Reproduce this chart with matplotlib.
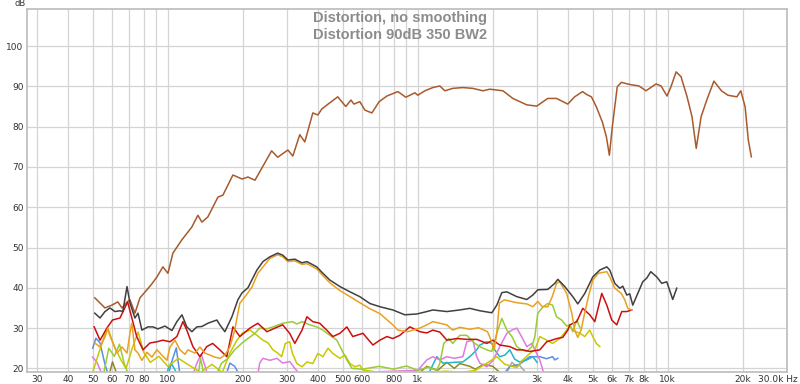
import numpy as np
import matplotlib
matplotlib.use("Agg")
import matplotlib.pyplot as plt
from matplotlib.transforms import ScaledTranslation

# --- data (Hz, dB) ---
fund_f = [51, 56, 59.7, 63, 65.5, 69, 70.5, 73.8, 77.3, 82.4, 86.3, 90.4, 95.5, 100, 104.7, 113.7,
          124.7, 131.8, 136.8, 144.5, 158.5, 166, 182, 198, 209, 223, 260, 275, 302, 316, 337,
          353, 380, 398, 413, 444, 478, 515, 540, 555, 586, 614, 655, 700, 752, 832, 895, 973,
          1000, 1067, 1148, 1225, 1282, 1380, 1514, 1660, 1820, 1940, 2190, 2400, 2730, 2990,
          3310, 3590, 3980, 4240, 4560, 4730, 4950, 5180, 5470, 5680, 5840, 6000, 6280, 6520,
          7000, 7670, 8180, 8980, 9400, 9930, 10300, 10800, 11300, 11950, 12500, 13000, 13600,
          14400, 15300, 16400, 17400, 18900, 19600, 20400, 21000, 21600]
fund_db = [37.5, 35, 35.7, 36.5, 35, 36.6, 37, 33.7, 37.5, 39.5, 41, 42.7, 45.2, 43.6, 48.6, 51.9,
           55.1, 58, 56.3, 57.6, 62.5, 63, 68, 67, 67.5, 66.7, 74, 72.4, 74.2, 72.7, 78,
           76.2, 83.4, 82.9, 84.4, 85.9, 87.4, 85, 86.6, 85.6, 86.2, 84.1, 83.4, 86.2, 87.6, 88.7, 87.3, 88.4,
           87.8, 88.9, 89.7, 90.1, 88.9, 89.5, 89.7, 89.5, 88.9, 89.3, 88.9, 87, 85.4, 85.1,
           87, 87, 85.6, 87.4, 88.7, 88, 87.4, 84.9, 81.2, 77.5, 72.9, 80, 89.9, 91,
           90.5, 90.1, 88.9, 90.6, 90.1, 87.6, 89.9, 93.6, 92.4, 87.4, 82.5, 74.6, 82.5,
           87, 91.3, 88.9, 87.8, 87.4, 88.9, 84.9, 76.7, 72.5]

thd_f = [51, 53.5, 56, 58.6, 61.4, 64.3, 66, 68.6, 70.5, 73.8, 75.9, 78.7, 83.2, 87.1, 91.2, 97.3,
         103.8, 108.6, 113.8, 119, 124.7, 130.6, 136.8, 144.5, 157, 161.4, 169, 180.3, 190.5,
         197.7, 209, 227, 240, 256, 275, 288, 302, 322, 344, 360, 394, 417, 445, 488, 535, 586,
         643, 705, 794, 887, 991, 1086, 1148, 1306, 1472, 1614, 1770, 1977, 2070, 2168, 2270,
         2489, 2729, 2884, 3020, 3311, 3532, 3631, 3873, 4169, 4365, 4656, 5012, 5346, 5702,
         5861, 6138, 6427, 6607, 6855, 7047, 7244, 7586, 7943, 8241, 8551, 9036, 9462, 9908,
         10470, 10860]
thd_db = [33.7, 32.5, 34.1, 35, 34.1, 34.3, 34.1, 40.3, 36.2, 32.5, 33.7, 29.5, 30.3, 30.3, 29.8, 30.5,
          29.4, 31.6, 33.3, 30.3, 29.1, 30.3, 30.4, 31.2, 32, 30.8, 29.1, 32.8, 37,
          38.7, 40, 44.4, 46.5, 47.7, 48.6, 48.1, 46.9, 47.1, 46.2, 46.5, 45.2, 43.6, 41.9, 40.3, 39, 37.8,
          36.1, 35.3, 34.5, 33.3, 33.5, 34.1, 34.5, 34.1, 34.5, 34.9, 34.3, 33.8, 35.7, 38.8, 39,
          37.8, 37.1, 38.2, 39.5, 39.6, 41.1, 42.1, 40.3, 37.8, 36, 38.6, 42.7, 44.4, 45.2,
          44.4, 41.1, 39.9, 40.4, 38.2, 38.5, 35.7, 38.6, 41.5, 42.4, 44, 42.7, 41.1, 41.5,
          37.1, 39.9]

h2_f = [51, 53.5, 56, 57.5, 59.7, 62.5, 65.5, 68.6, 70.5, 71.7, 73.8, 75.9, 78.7, 82.4, 86.3, 90.4,
        94.6, 99.1, 101.9, 106.7, 111.7, 117, 120.2, 128.2, 134.3, 140.6, 147.2, 154, 161.4, 169,
        177, 185, 194, 203, 217, 229, 244, 256, 275, 288, 302, 322, 344, 360, 394, 417, 445,
        488, 535, 586, 643, 705, 794, 832, 910, 1019, 1086, 1148, 1306, 1380, 1472, 1614, 1750,
        1900, 1940, 2020, 2070, 2120, 2220, 2489, 2729, 2884, 3020, 3150, 3311, 3450, 3590,
        3698, 3940, 4130, 4240, 4365, 4500, 4650, 4850, 5012, 5270, 5702, 5861, 6138, 6520,
        6730, 6920, 7150]
h2_db = [26.3, 25.3, 27.8, 30, 27, 23.8, 25.3, 23.8, 28.8, 31.2, 24.6, 23.8, 22, 24, 22.8, 24.6,
         23.3, 22, 25.3, 27, 24.6, 23.5, 24.6, 23.8, 25.3, 23.8, 23.3, 22.8, 22.5, 23.3,
         25.3, 29.5, 36.2, 37.7, 40.2, 43.6, 45.7, 47.3, 48.2, 47.7, 46.5, 46.7, 45.8, 46, 44.7, 43, 41.2,
         39.3, 37.8, 36.3, 34.8, 33.6, 30.8, 29.5, 29.1, 30, 30.8, 31.6, 30.8, 29.5, 30.2, 29.7, 30.1,
         29.1, 27.8, 24.6, 28.8, 36.2, 37, 36.3, 36, 35.3, 36.6, 35.3, 35.3, 37.8, 41.1,
         41.5, 38.6, 33.7, 29.5, 27.7, 29.5, 33.7, 38.6, 41.9, 43.6, 44, 42.7, 39.9, 38.6,
         37, 34.9, 34.5]

h3_f = [50.7, 53.5, 57, 60, 64.3, 69, 75, 79.5, 84.7, 90.4, 95.5, 101.9, 108.6, 114.8, 119, 125.9,
        134.3, 143, 151, 161.4, 172, 182, 194, 213, 229, 249, 268, 288, 307, 322, 344, 360,
        380, 405, 432, 457, 488, 520, 549, 603, 661, 705, 752, 794, 847, 929, 1019, 1086, 1148,
        1225, 1306, 1432, 1570, 1722, 1888, 1995, 2128, 2333, 2489, 2630, 2805, 3076, 3280,
        3597, 3802, 3981, 4055, 4325, 4571, 4875, 5105, 5445, 5702, 5970, 6250, 6546, 6855, 7178]
h3_db = [30.3, 27, 30, 32, 32.5, 36.5, 27.9, 24.6, 26.3, 26.6, 27, 26.6, 27.9, 31.6, 29.5, 25.4,
         22.9, 25.4, 26.2, 24.6, 22.9, 30.3, 27.9, 30, 31.2, 29.1, 30, 30.8, 28.7, 26.2, 29.5, 32.8,
         31.6, 31.2, 29.5, 27.9, 28.7, 30.3, 27.9, 28.7, 25.8, 27, 27.9, 27.4, 28.2, 30.3, 29.1, 28.8, 29.5,
         29, 27, 27.4, 27.2, 27.2, 26.2, 27, 25.8, 25.4, 24.6, 24.6, 24.2, 24.6, 26.6,
         27.4, 27.7, 29.5, 30.8, 31.6, 34.9, 33.3, 31.6, 38.6, 35.7, 32, 30.8, 34.1, 34.1, 34.5]

h4_f = [55, 58, 61, 64, 67, 70, 132, 135, 140, 155, 164, 174, 185, 198, 210, 223, 233, 249, 263, 288,
        315, 328, 344, 370, 394, 417, 445, 474, 496, 520, 545, 600, 700, 800, 900, 1000, 1100,
        1191, 1225, 1270, 1330, 1380, 1472, 1570, 1690, 1770, 1888, 1977, 2070, 2168, 2270,
        2380, 2489, 2600, 2729, 2860, 2940, 3020, 3170, 3311, 3460, 3590, 3760, 3940, 4055,
        4170, 4325, 4460]
h4_db = [18, 25, 23, 26, 21, 18, 18, 22.5, 18, 18, 21.3, 22.5, 24.6, 26.3, 27.5, 28.7, 30, 29.8, 30.3, 31.2,
         31.6, 31, 31.6, 30.8, 30.3, 29.5, 28.2, 27, 24.6, 22.1, 20, 19.8, 20.5, 19.8, 20.6, 19.5, 20.3,
         19.5, 21.3, 26.2, 27.4, 26.2, 28.2, 28.2, 26.2, 25.4, 24.6, 24.2, 28.7, 32.4, 29.5,
         27.9, 25.4, 24.6, 24.2, 25.4, 27.9, 33.7, 35.3, 36.1, 35.7, 32.8, 32, 30.5, 30.8,
         29.1, 32, 30]

h5_f = [50, 53, 57, 61, 65, 68, 72, 76, 80, 85, 92, 100, 110, 120, 135, 150, 165, 177, 189, 199,
        213, 227, 240, 252, 263, 275, 285, 295, 307, 315, 328, 344, 360, 380, 398, 417, 437,
        457, 488, 511, 535, 560, 586, 603, 700, 900, 1100, 1300, 1500, 1700, 1888, 2070, 2230,
        2489, 2630, 2805, 2940, 3076, 3273, 3460, 3698, 3940, 4055, 4240, 4460, 4656, 4870,
        5012, 5180, 5346]
h5_db = [19, 24, 30, 25.5, 22, 20, 25, 29, 24, 21.5, 23, 20.5, 22.5, 21, 19, 21, 19, 23.8, 27, 28.8,
         29.5, 28.2, 27, 26.3, 24.6, 23.8, 22.9, 26.2, 26.6, 23.7, 21.2, 20.4, 21.6, 21.2, 23.7, 22.9, 25,
         23.7, 22.5, 23.3, 21.2, 20.4, 20.8, 19.6, 19, 19.2, 19, 19.3, 19, 19.5, 21.3, 22.9, 21,
         20.2, 22.1, 23.7, 24.6, 27.9, 27, 26.2, 27.4, 29.5, 30.5, 29.2, 28.7, 27.9, 29.5,
         27.9, 26.2, 25.4]

h6_f = [50, 52, 55, 125, 131, 136, 140, 145, 228, 233, 240, 256, 273, 288, 307, 322, 337,
        1000, 1086, 1148, 1225, 1306, 1400, 1514, 1570, 1660, 1720, 1770, 1888, 2000, 2128,
        2270, 2380, 2489, 2600, 2729, 2860, 2940, 3076, 3200]
h6_db = [22.8, 21.5, 18, 18, 21.5, 23.5, 21, 18, 18, 21.3, 22.5, 22, 22.5, 21.3, 21.7, 20, 18.5,
         19.5, 22.1, 22.9, 22.1, 22.9, 22.5, 22.9, 26.6, 27, 22.9, 21.3, 20.4, 22, 25.4,
         28.7, 29.5, 30, 27.9, 25.4, 26.2, 24.6, 22.1, 18.5]

h7_f = [98, 101, 103, 107, 110, 1100, 1191, 1260, 1400, 1514, 1614, 1720, 1770, 1888, 1977,
        2030, 2128, 2230, 2333, 2440, 2550, 2729, 2884, 3000]
h7_db = [18, 20.5, 21.3, 19.5, 18, 18.5, 22.9, 21.3, 21.5, 21.6, 22.9, 24.6, 25.8, 26.6, 26.2,
         24.6, 22.9, 23.3, 24.6, 22.3, 21.6, 22.1, 22.9, 21.5]

h8_f = [50, 51.5, 53.5, 56, 58, 100, 104, 108, 112, 170, 177, 185, 195, 2200, 2333, 2550, 2805,
        3076, 3273, 3460, 3532, 3631]
h8_db = [25, 27.5, 26.3, 21, 18, 18, 22, 25.1, 18, 18, 21.3, 20.5, 18, 18.5, 20.5, 21, 22.9,
         22.9, 22.4, 22.9, 22.1, 22.5]

h9_f = [58, 60, 63, 1000, 1086, 1200, 1306, 1400, 1472, 1614, 1700, 1830, 1995, 2128]
h9_db = [18, 21.6, 18, 18.5, 20.5, 19.5, 21.5, 20, 21.2, 20.5, 19.8, 21, 20.5, 19]

h10_f = [2250, 2380, 2480, 2550, 2700]
h10_db = [18.5, 21.5, 20.5, 20.8, 19]

series = [
    (fund_f, fund_db, "#A85A2C"),
    (h10_f, h10_db, "#A8A8A8"),
    (h9_f, h9_db, "#8A8A20"),
    (h8_f, h8_db, "#5B8FE0"),
    (h7_f, h7_db, "#22B5C5"),
    (h6_f, h6_db, "#E07AE0"),
    (h5_f, h5_db, "#C8C800"),
    (h4_f, h4_db, "#99CC33"),
    (h3_f, h3_db, "#CC1010"),
    (h2_f, h2_db, "#EAA020"),
    (thd_f, thd_db, "#404040"),
]

# tick positions (grid at every 1..9 step), labelled subset
tick_pos = [30, 40, 50, 60, 70, 80, 90, 100, 200, 300, 400, 500, 600, 700, 800, 900,
            1000, 2000, 3000, 4000, 5000, 6000, 7000, 8000, 9000, 10000, 20000, 30000]
tick_lbl = ["30", "40", "50", "60", "70", "80", "", "100", "200", "300", "400", "500", "600",
            "", "800", "", "1k", "2k", "3k", "4k", "5k", "6k", "7k", "8k", "", "10k", "20k",
            "30.0k Hz"]
y_ticks = [20, 30, 40, 50, 60, 70, 80, 90, 100]

fig = plt.figure(figsize=(8, 3.84), dpi=100)
ax = fig.add_axes([27 / 800, 12 / 384, 760 / 800, 363 / 384])

for fx, fy, col in series:
    ax.plot(fx, fy, color=col, lw=1.1)

ax.set_xscale("log")
ax.set_xlim(27.3, 30000)
ax.set_ylim(19.1, 109.2)
ax.set_xticks(tick_pos)
ax.set_xticklabels(tick_lbl)
ax.xaxis.set_minor_locator(matplotlib.ticker.NullLocator())
ax.set_yticks(y_ticks)
ax.grid(True, color="#D4D4D4", lw=0.9)
ax.set_axisbelow(True)
ax.tick_params(length=0, labelsize=6.5, colors="#333333", pad=2.5)
for s in ax.spines.values():
    s.set_color("#C0C0C0")
    s.set_linewidth(1.3)

# last label sits right-aligned against the figure edge
last = ax.get_xticklabels()[-1]
last.set_ha("right")
last.set_transform(last.get_transform() + ScaledTranslation(11 / 100, 0, fig.dpi_scale_trans))

fig.text(20 / 800, 1 - 4 / 384, "dB", fontsize=6, color="#333333", ha="center", va="center")
fig.text(0.5, 1 - 18 / 384, "Distortion, no smoothing", fontsize=10.5, fontweight="bold",
         color="#8C8C8C", ha="center", va="center", family="Liberation Sans")
fig.text(0.5, 1 - 35 / 384, "Distortion 90dB 350 BW2", fontsize=10.5, fontweight="bold",
         color="#8C8C8C", ha="center", va="center", family="Liberation Sans")

fig.savefig("out.png", dpi=100)
